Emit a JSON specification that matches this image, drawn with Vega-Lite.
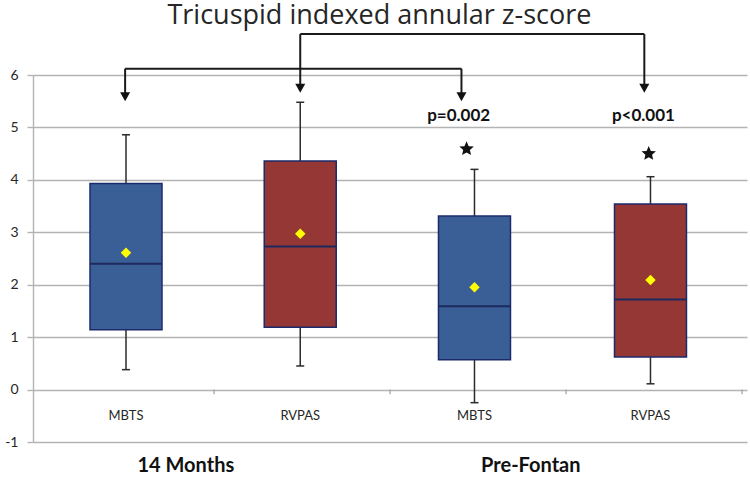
{
  "$schema": "https://vega.github.io/schema/vega-lite/v6.json",
  "autosize": {"type": "none"},
  "width": 714,
  "height": 367,
  "padding": {"left": 33, "top": 75, "right": 3, "bottom": 39},
  "background": "white",
  "config": {
    "view": {"stroke": null},
    "text": {"font": "Lato"}
  },
  "datasets": {
    "boxes": [
      {"period": "14 Months", "shunt": "MBTS", "pos": 0.5, "min": 0.38, "q1": 1.14, "median": 2.40, "q3": 3.93, "max": 4.86, "mean": 2.61},
      {"period": "14 Months", "shunt": "RVPAS", "pos": 1.49, "min": 0.45, "q1": 1.19, "median": 2.73, "q3": 4.36, "max": 5.48, "mean": 2.97},
      {"period": "Pre-Fontan", "shunt": "MBTS", "pos": 2.48, "min": -0.25, "q1": 0.57, "median": 1.59, "q3": 3.31, "max": 4.20, "mean": 1.95},
      {"period": "Pre-Fontan", "shunt": "RVPAS", "pos": 3.48, "min": 0.11, "q1": 0.62, "median": 1.72, "q3": 3.54, "max": 4.06, "mean": 2.09}
    ],
    "groups": [
      {"label": "14 Months", "pos": 0.84},
      {"label": "Pre-Fontan", "pos": 2.8}
    ],
    "titles": [
      {"label": "Tricuspid indexed annular z-score", "pos": 1.94}
    ],
    "bounds": [
      {"pos": 1}, {"pos": 2}, {"pos": 3}, {"pos": 4}
    ],
    "brackets": [
      {"x": 0.495, "x2": 0.495, "y": 6.12, "y2": 5.6},
      {"x": 0.495, "x2": 2.406, "y": 6.12, "y2": 6.12},
      {"x": 2.406, "x2": 2.406, "y": 6.12, "y2": 5.6},
      {"x": 1.49, "x2": 1.49, "y": 6.78, "y2": 5.75},
      {"x": 1.49, "x2": 3.445, "y": 6.78, "y2": 6.78},
      {"x": 3.445, "x2": 3.445, "y": 6.78, "y2": 5.75}
    ],
    "arrows": [
      {"x": 0.495, "y": 5.50},
      {"x": 2.406, "y": 5.50},
      {"x": 1.49, "y": 5.66},
      {"x": 3.445, "y": 5.66}
    ],
    "sig": [
      {"p": "p=0.002", "p_x": 2.39, "p_y": 5.21, "star_x": 2.435, "star_y": 4.59},
      {"p": "p<0.001", "p_x": 3.44, "p_y": 5.21, "star_x": 3.47, "star_y": 4.50}
    ]
  },
  "layer": [
    {
      "data": {"name": "bounds"},
      "mark": {"type": "rule", "color": "#a6a6a6", "strokeWidth": 1.3},
      "encoding": {
        "x": {"field": "pos", "type": "quantitative", "scale": {"domain": [0, 4], "nice": false, "zero": false}, "axis": null},
        "y": {"datum": 0, "type": "quantitative", "scale": {"domain": [-1, 6], "nice": false, "zero": false},
          "axis": {
            "values": [-1, 0, 1, 2, 3, 4, 5, 6],
            "labelExpr": "toString(datum.value)",
            "title": null,
            "grid": true,
            "gridColor": "#b3b3b3",
            "gridWidth": 1.4,
            "domainColor": "#b3b3b3",
            "domainWidth": 1.4,
            "tickColor": "#b3b3b3",
            "tickWidth": 1.4,
            "tickSize": 6,
            "labelFont": "Lato",
            "labelFontSize": 14,
            "labelColor": "#262626",
            "labelPadding": 9
          }
        },
        "y2": {"datum": -0.09}
      }
    },
    {
      "data": {"name": "boxes"},
      "mark": {"type": "rule", "color": "#2b2b2b", "strokeWidth": 1.5},
      "encoding": {
        "x": {"field": "pos", "type": "quantitative"},
        "y": {"field": "q3", "type": "quantitative"},
        "y2": {"field": "max"}
      }
    },
    {
      "data": {"name": "boxes"},
      "mark": {"type": "rule", "color": "#2b2b2b", "strokeWidth": 1.5},
      "encoding": {
        "x": {"field": "pos", "type": "quantitative"},
        "y": {"field": "q1", "type": "quantitative"},
        "y2": {"field": "min"}
      }
    },
    {
      "data": {"name": "boxes"},
      "mark": {"type": "tick", "orient": "horizontal", "color": "#2b2b2b", "size": 8, "thickness": 1.5, "opacity": 1},
      "encoding": {
        "x": {"field": "pos", "type": "quantitative"},
        "y": {"field": "max", "type": "quantitative"}
      }
    },
    {
      "data": {"name": "boxes"},
      "mark": {"type": "tick", "orient": "horizontal", "color": "#2b2b2b", "size": 8, "thickness": 1.5, "opacity": 1},
      "encoding": {
        "x": {"field": "pos", "type": "quantitative"},
        "y": {"field": "min", "type": "quantitative"}
      }
    },
    {
      "data": {"name": "boxes"},
      "mark": {"type": "bar", "width": 72, "stroke": "#1c2a6b", "strokeWidth": 1.5},
      "encoding": {
        "x": {"field": "pos", "type": "quantitative"},
        "y": {"field": "q1", "type": "quantitative"},
        "y2": {"field": "q3"},
        "fill": {"field": "shunt", "type": "nominal", "scale": {"domain": ["MBTS", "RVPAS"], "range": ["#3a5f96", "#953735"]}, "legend": null}
      }
    },
    {
      "data": {"name": "boxes"},
      "mark": {"type": "tick", "orient": "horizontal", "color": "#1c2a5e", "size": 72, "thickness": 2, "opacity": 1},
      "encoding": {
        "x": {"field": "pos", "type": "quantitative"},
        "y": {"field": "median", "type": "quantitative"}
      }
    },
    {
      "data": {"name": "boxes"},
      "mark": {"type": "point", "shape": "diamond", "filled": true, "color": "#ffff00", "size": 110, "opacity": 1},
      "encoding": {
        "x": {"field": "pos", "type": "quantitative"},
        "y": {"field": "mean", "type": "quantitative"}
      }
    },
    {
      "data": {"name": "boxes"},
      "mark": {"type": "text", "fontSize": 13, "color": "#262626", "baseline": "middle", "align": "center"},
      "encoding": {
        "x": {"field": "pos", "type": "quantitative"},
        "y": {"datum": -0.5, "type": "quantitative"},
        "text": {"field": "shunt"}
      }
    },
    {
      "data": {"name": "groups"},
      "mark": {"type": "text", "fontSize": 20, "fontWeight": "bold", "color": "#111111", "baseline": "middle", "align": "center"},
      "encoding": {
        "x": {"field": "pos", "type": "quantitative"},
        "y": {"datum": -1.46, "type": "quantitative"},
        "text": {"field": "label"}
      }
    },
    {
      "data": {"name": "titles"},
      "mark": {"type": "text", "font": "Open Sans", "fontSize": 27, "color": "#262626", "baseline": "alphabetic", "align": "center"},
      "encoding": {
        "x": {"field": "pos", "type": "quantitative"},
        "y": {"datum": 6.965, "type": "quantitative"},
        "text": {"field": "label"}
      }
    },
    {
      "data": {"name": "brackets"},
      "mark": {"type": "rule", "color": "#1a1a1a", "strokeWidth": 2},
      "encoding": {
        "x": {"field": "x", "type": "quantitative"},
        "x2": {"field": "x2"},
        "y": {"field": "y", "type": "quantitative"},
        "y2": {"field": "y2"}
      }
    },
    {
      "data": {"name": "arrows"},
      "mark": {"type": "point", "shape": "M-1,-1.8L1,-1.8L0,0Z", "filled": true, "color": "#111111", "size": 100, "opacity": 1},
      "encoding": {
        "x": {"field": "x", "type": "quantitative"},
        "y": {"field": "y", "type": "quantitative"}
      }
    },
    {
      "data": {"name": "sig"},
      "mark": {"type": "point", "shape": "M0,-1L0.28,-0.36L0.951,-0.309L0.44,0.15L0.588,0.809L0,0.46L-0.588,0.809L-0.44,0.15L-0.951,-0.309L-0.28,-0.36Z", "filled": true, "color": "#111111", "size": 230, "opacity": 1},
      "encoding": {
        "x": {"field": "star_x", "type": "quantitative"},
        "y": {"field": "star_y", "type": "quantitative"}
      }
    },
    {
      "data": {"name": "sig"},
      "mark": {"type": "text", "fontSize": 17, "fontWeight": "bold", "color": "#111111", "baseline": "middle", "align": "center"},
      "encoding": {
        "x": {"field": "p_x", "type": "quantitative"},
        "y": {"field": "p_y", "type": "quantitative"},
        "text": {"field": "p"}
      }
    }
  ]
}
